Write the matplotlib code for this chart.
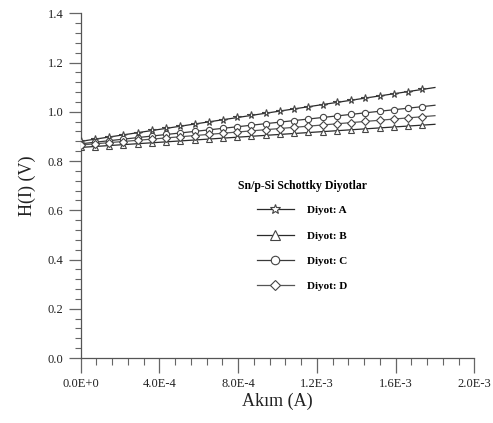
import matplotlib
matplotlib.use("Agg")
import matplotlib.pyplot as plt
from matplotlib.ticker import MultipleLocator, FixedLocator
import numpy as np

plt.rcParams['font.family'] = ['Liberation Serif', 'DejaVu Serif']

# Current (A)
current = [0.0, 0.723e-4, 1.446e-4, 2.169e-4, 2.892e-4, 3.615e-4, 4.338e-4, 5.061e-4,
           5.784e-4, 6.507e-4, 7.230e-4, 7.953e-4, 8.676e-4, 9.399e-4, 10.122e-4,
           10.845e-4, 11.568e-4, 12.291e-4, 13.014e-4, 13.737e-4, 14.460e-4, 15.183e-4,
           15.906e-4, 16.629e-4, 17.352e-4]

diyot_a = [0.880, 0.889, 0.897, 0.906, 0.915, 0.924, 0.933, 0.941, 0.950, 0.959, 0.968,
           0.977, 0.986, 0.994, 1.003, 1.012, 1.020, 1.029, 1.038, 1.047, 1.056, 1.064,
           1.073, 1.082, 1.091]
diyot_b = [0.855, 0.859, 0.863, 0.867, 0.870, 0.874, 0.878, 0.882, 0.885, 0.889, 0.893,
           0.897, 0.901, 0.904, 0.908, 0.912, 0.916, 0.919, 0.923, 0.927, 0.931, 0.934,
           0.938, 0.942, 0.946]
diyot_c = [0.870, 0.876, 0.883, 0.889, 0.895, 0.901, 0.908, 0.914, 0.920, 0.927, 0.933,
           0.939, 0.945, 0.952, 0.958, 0.964, 0.971, 0.977, 0.983, 0.989, 0.996, 1.002,
           1.008, 1.015, 1.021]
diyot_d = [0.865, 0.870, 0.875, 0.879, 0.884, 0.889, 0.894, 0.899, 0.903, 0.908, 0.913,
           0.918, 0.923, 0.927, 0.932, 0.937, 0.942, 0.946, 0.951, 0.956, 0.961, 0.966,
           0.970, 0.975, 0.980]

labels = ["Diyot: A", "Diyot: B", "Diyot: C", "Diyot: D"]
series = [diyot_a, diyot_b, diyot_c, diyot_d]
markers = ['*', '^', 'o', 'D']
msizes = [5.5, 5, 4.5, 4]
line_colors = ['#2a2a2a', '#2a2a2a', '#3a3a3a', '#555555']
fit_end = 1.8e-3

xticks = [0.0, 4e-4, 8e-4, 1.2e-3, 1.6e-3, 2.0e-3]
xticklabels = ["0.0E+0", "4.0E-4", "8.0E-4", "1.2E-3", "1.6E-3", "2.0E-3"]

fig = plt.figure(figsize=(4.93, 4.23), dpi=100)
ax = fig.add_axes([80.7/493, 1-358/423, (474.3-80.7)/493, (358-13.3)/423])

x = np.array(current)
for ys, lab, m, ms, lc in zip(series, labels, markers, msizes, line_colors):
    y = np.array(ys)
    k, b = np.polyfit(x, y, 1)
    xf = np.array([0.0, fit_end])
    ax.plot(xf, k*xf + b, color=lc, lw=0.9, zorder=2)
    ax.plot(x, y, linestyle='none', marker=m, ms=ms, mfc='white', mec='#444444',
            mew=0.8, zorder=3)
    ax.plot([], [], color=lc, lw=0.9, marker=m, ms=ms*1.35, mfc='white',
            mec='#444444', mew=0.8, label=lab)

ax.set_xlim(0, 2.0e-3)
ax.set_ylim(0, 1.4)
ax.xaxis.set_major_locator(FixedLocator(xticks))
ax.set_xticklabels(xticklabels)
ax.xaxis.set_minor_locator(MultipleLocator(8e-5))
ax.yaxis.set_major_locator(MultipleLocator(0.2))
ax.yaxis.set_minor_locator(MultipleLocator(0.04))
ax.yaxis.set_major_formatter(plt.FormatStrFormatter('%.1f'))

for s in ['top', 'right']:
    ax.spines[s].set_visible(False)
for s in ['left', 'bottom']:
    ax.spines[s].set_color('#555555')
    ax.spines[s].set_linewidth(0.9)

ax.tick_params(axis='x', which='major', direction='out', length=10.5, width=0.9,
               color='#666666', labelsize=9, pad=4, labelcolor='#222222')
ax.tick_params(axis='x', which='minor', direction='out', length=5, width=0.8,
               color='#666666')
ax.tick_params(axis='y', which='major', direction='out', length=8.6, width=0.9,
               color='#666666', labelsize=9, pad=4, labelcolor='#222222')
ax.tick_params(axis='y', which='minor', direction='out', length=4.3, width=0.8,
               color='#666666')

ax.set_xlabel("Akım (A)", fontsize=13, labelpad=2, color='#222222')
ax.set_ylabel("H(I) (V)", fontsize=13, labelpad=8, color='#222222')

leg = ax.legend(loc='upper center', bbox_to_anchor=(302/493, 1-174/423),
                bbox_transform=fig.transFigure, frameon=False,
                title="Sn/p-Si Schottky Diyotlar",
                prop={'weight': 'bold', 'size': 8},
                handlelength=3.3, handletextpad=1.2, labelspacing=1.4,
                borderpad=0)
leg.get_title().set_fontweight('bold')
leg.get_title().set_fontsize(8.5)
leg._legend_box.sep = 10

fig.savefig("out.png", dpi=100)
